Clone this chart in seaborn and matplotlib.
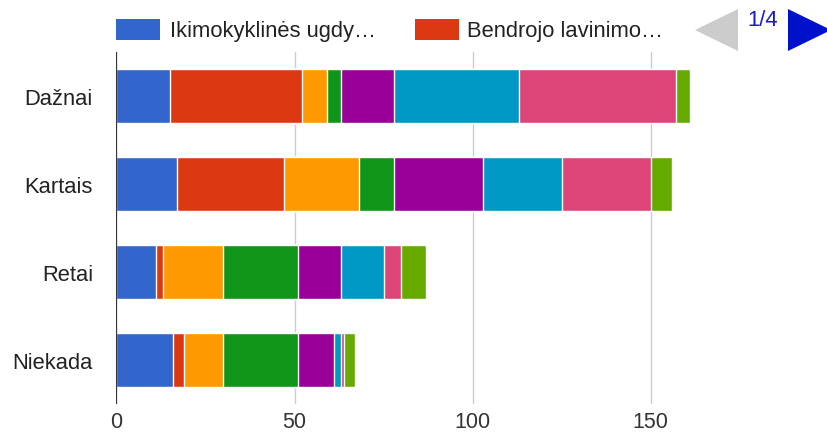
import numpy as np
import pandas as pd
import seaborn as sns
import matplotlib.pyplot as plt
from matplotlib.patches import Rectangle, Polygon

# Answer categories (rows) and the eight stacked series
categories = ["Dažnai", "Kartais", "Retai", "Niekada"]
series_names = [
    "Ikimokyklinės ugdy…",
    "Bendrojo lavinimo…",
    "Serija 3",
    "Serija 4",
    "Serija 5",
    "Serija 6",
    "Serija 7",
    "Serija 8",
]
s1 = [15, 17, 11, 16]
s2 = [37, 30, 2, 3]
s3 = [7, 21, 17, 11]
s4 = [4, 10, 21, 21]
s5 = [15, 25, 12, 10]
s6 = [35, 22, 12, 2]
s7 = [44, 25, 5, 1]
s8 = [4, 6, 7, 3]
series_values = [s1, s2, s3, s4, s5, s6, s7, s8]
colors = ["#3366cc", "#dc3912", "#ff9900", "#109618",
          "#990099", "#0099c6", "#dd4477", "#66aa00"]
x_ticks = [0, 50, 100, 150]
page_label = "1/4"

sns.set_style("white")
plt.rcParams["font.family"] = ["Liberation Sans", "DejaVu Sans"]

W, H = 828, 435
fig = plt.figure(figsize=(W / 100, H / 100), dpi=100)


def fx(px):
    return px / W


def fy(py):
    return 1 - py / H


left_px, right_px, top_px, bottom_px = 116.5, 793, 53, 405
ax = fig.add_axes([fx(left_px), fy(bottom_px),
                   fx(right_px - left_px), (bottom_px - top_px) / H])

# Cumulative ends so each series sits on the ones before it
cum = np.cumsum(np.array(series_values), axis=0)
frames = []
for name, ends in zip(series_names, cum):
    frames.append(pd.DataFrame({"kategorija": categories, "pabaiga": ends, "serija": name}))
long_df = pd.concat(frames, ignore_index=True)

# Draw from the last series back to the first so earlier segments overlay later ones
for name, col in reversed(list(zip(series_names, colors))):
    sub = long_df[long_df["serija"] == name]
    sns.barplot(data=sub, x="pabaiga", y="kategorija", order=categories,
                orient="h", color=col, saturation=1, width=0.61,
                edgecolor="white", linewidth=1.0, ax=ax, zorder=2)

ax.set_xlim(0, 190)
ax.set_xticks(x_ticks)
ax.set_xticklabels([str(t) for t in x_ticks])
ax.set_xlabel("")
ax.set_ylabel("")
for t in x_ticks[1:]:
    ax.axvline(t, color="#cccccc", lw=1.0, zorder=0)
ax.axvline(0, color="#333333", lw=1.6, zorder=3)
for sp in ax.spines.values():
    sp.set_visible(False)
ax.tick_params(axis="x", length=0, pad=5, labelsize=15.5, labelcolor="#333333")
ax.tick_params(axis="y", length=0, pad=17, labelsize=15.8, labelcolor="#222222")

# Legend (first page of four)
legend_items = [(116, 170), (415, 467)]
for (sq_x, tx), name, col in zip(legend_items, series_names[:2], colors[:2]):
    fig.add_artist(Rectangle((fx(sq_x), fy(40.7)), fx(44), 20.7 / H,
                             transform=fig.transFigure, facecolor=col,
                             edgecolor="none"))
    fig.text(fx(tx), fy(31), name, ha="left", va="center",
             fontsize=15.8, color="#222222")

# Pager arrows
fig.add_artist(Polygon([(fx(695), fy(31)), (fx(738), fy(10)), (fx(738), fy(52))],
                       closed=True, transform=fig.transFigure,
                       facecolor="#cccccc", edgecolor="none"))
fig.add_artist(Polygon([(fx(788), fy(10)), (fx(788), fy(52)), (fx(831), fy(31))],
                       closed=True, transform=fig.transFigure,
                       facecolor="#0011cc", edgecolor="none"))
fig.text(fx(763), fy(20.5), page_label, ha="center", va="center",
         fontsize=15.8, color="#1a1acc")

fig.savefig("out.png", dpi=100)
